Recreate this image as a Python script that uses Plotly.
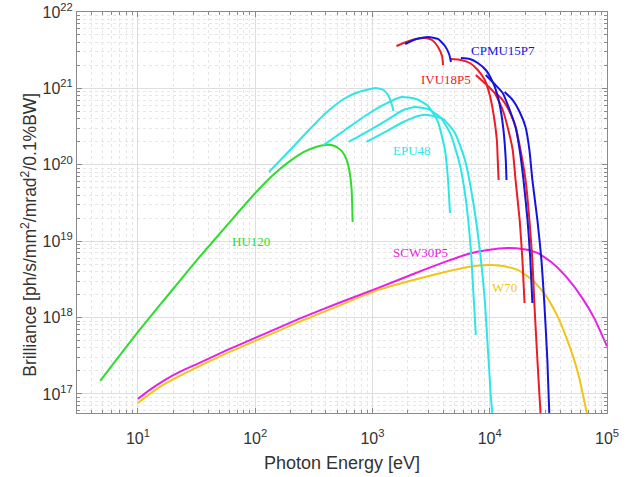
import plotly.graph_objects as go

# ---------------- data (photon energy [eV], brilliance) ----------------
hu120_energy = [4.76, 7.04, 10, 15.4, 22.7, 33.5, 49.5, 73.2, 104, 145, 194, 260, 329, 400,
                476, 546, 602, 638, 664, 677]
hu120_brill = [1.48e17, 3.24e17, 6.48e17, 1.46e18, 3.01e18, 6.21e18, 1.24e19, 2.48e19, 4.54e19,
               7.58e19, 1.09e20, 1.47e20, 1.71e20, 1.82e20, 1.76e20, 1.52e20, 1.16e20, 8.05e19,
               4.68e19, 1.78e19]

epu48_energy = [
    [131, 206, 287, 400, 568, 761, 1060, 1240, 1370, 1450, 1510],
    [385, 568, 839, 1240, 1760, 2360, 2980, 3620, 4150, 4410, 4580],
    [626, 925, 1370, 1830, 2310, 2980, 3840, 4670, 5570, 6260, 6900, 7310, 7610],
    [889, 1240, 1830, 2450, 2980, 4000, 5050, 6140, 7180, 8230, 9070, 9620, 10200, 10600],
]
epu48_brill = [
    [8.05e19, 1.66e20, 2.85e20, 4.76e20, 7.26e20, 8.97e20, 1.01e21, 9.53e20, 7.96e20, 6.44e20, 5.06e20],
    [1.82e20, 2.77e20, 4.22e20, 6.07e20, 7.71e20, 7.26e20, 5.89e20, 3.63e20, 1.56e20, 6.32e19, 2.34e19],
    [1.99e20, 2.77e20, 3.97e20, 5.21e20, 5.71e20, 5.37e20, 4.10e20, 2.45e20, 9.94e19, 3.46e19,
     7.67e18, 1.70e18, 5.92e17],
    [1.99e20, 2.61e20, 3.63e20, 4.35e20, 4.49e20, 3.97e20, 2.61e20, 1.16e20, 3.46e19, 7.67e18,
     1.70e18, 4.12e17, 9.7e16, 4.57e16],
]

ivu18p5_energy = [
    [1600, 1940, 2360, 2810, 3220, 3620, 3920, 4000],
    [4670, 5680, 6770, 7910, 9070, 10000, 10800, 11500, 11700, 11900],
    [7610, 9250, 11000, 12900, 14200, 15700, 16600, 18000, 19000, 19800],
    [11000, 12900, 14800, 16600, 18300, 20200, 21800, 23100, 24000, 25500, 27100, 27600],
]
ivu18p5_brill = [
    [3.59e21, 4.05e21, 4.44e21, 4.57e21, 4.30e21, 3.48e21, 2.65e21, 2.02e21],
    [2.43e21, 2.36e21, 2.15e21, 1.74e21, 1.29e21, 8.2e20, 4.49e20, 2.11e20, 1.16e20, 6.32e19],
    [1.50e21, 1.14e21, 8.71e20, 5.21e20, 3.13e20, 1.56e20, 6.32e19, 1.89e19, 5.68e18, 1.55e18],
    [8.97e20, 7.04e20, 4.91e20, 3.13e20, 1.56e20, 6.32e19, 1.89e19, 5.68e18, 1.55e18, 2.79e17,
     5.64e16, 3.93e16],
]

cpmu15p7_energy = [
    [1900, 2360, 2980, 3620, 4150, 4500, 4670],
    [5680, 6770, 7910, 9250, 10400, 11500, 12400, 13100, 13700, 13900],
    [9250, 11000, 12900, 14800, 16600, 18000, 19400, 21000, 22200, 23100],
    [13400, 15700, 18000, 20200, 21800, 23100, 25500, 27600, 29200, 31000, 32200, 32900],
]
cpmu15p7_brill = [
    [3.81e21, 4.44e21, 4.71e21, 4.44e21, 3.59e21, 2.82e21, 2.22e21],
    [2.50e21, 2.43e21, 2.15e21, 1.74e21, 1.29e21, 8.71e20, 5.21e20, 2.85e20, 1.16e20, 6.32e19],
    [1.50e21, 1.14e21, 8.71e20, 5.21e20, 3.13e20, 1.56e20, 6.32e19, 1.89e19, 5.68e18, 1.55e18],
    [8.97e20, 7.04e20, 4.91e20, 3.13e20, 1.56e20, 6.32e19, 1.89e19, 5.68e18, 1.55e18, 2.79e17,
     5.64e16, 3.93e16],
]

scw30p5_energy = [10, 12.6, 16.9, 22.7, 33.5, 57.9, 100, 236, 515, 1120, 2230, 4150, 6510, 9620,
                  14200, 19000, 25500, 34200, 45800, 61400, 77600, 100000]
scw30p5_brill = [8.6e16, 1.13e17, 1.52e17, 1.94e17, 2.55e17, 3.77e17, 5.41e17, 9.59e17, 1.55e18,
                 2.44e18, 3.72e18, 5.35e18, 6.79e18, 7.67e18, 8.15e18, 7.91e18, 7.01e18, 5.19e18,
                 3.30e18, 1.81e18, 9.89e17, 4.2e17]

w70_energy = [10, 12.6, 16.9, 22.7, 33.5, 57.9, 100, 236, 515, 1120, 2230, 4150, 6510, 9620,
              12900, 17300, 23100, 29800, 37700, 45800, 55700, 63800, 69000]
w70_brill = [7.6e16, 1.0e17, 1.35e17, 1.72e17, 2.32e17, 3.44e17, 4.94e17, 8.75e17, 1.42e18,
             2.30e18, 3.10e18, 3.95e18, 4.59e18, 4.88e18, 4.73e18, 4.20e18, 3.10e18, 1.98e18,
             1.05e18, 5.09e17, 2.06e17, 8.34e16, 4.57e16]

x_tick_vals = [10, 100, 1000, 10000, 100000]
x_tick_text = ["10<sup>1</sup>", "10<sup>2</sup>", "10<sup>3</sup>", "10<sup>4</sup>", "10<sup>5</sup>"]
y_tick_vals = [1e17, 1e18, 1e19, 1e20, 1e21, 1e22]
y_tick_text = ["10<sup>17</sup>", "10<sup>18</sup>", "10<sup>19</sup>", "10<sup>20</sup>",
               "10<sup>21</sup>", "10<sup>22</sup>"]

x_title = "Photon Energy [eV]"
y_title = "Brilliance [ph/s/mm<sup>2</sup>/mrad<sup>2</sup>/0.1%BW]"

# curve labels: (text, log10 energy, log10 brilliance, colour)
labels = [
    ("CPMU15P7", 4.114, 21.49, "#1414dc"),
    ("IVU18P5", 3.627, 21.12, "#ec1c24"),
    ("EPU48", 3.339, 20.19, "#2ee6e6"),
    ("HU120", 1.966, 18.99, "#2edc2e"),
    ("SCW30P5", 3.407, 18.85, "#e620e6"),
    ("W70", 4.127, 18.39, "#f2c418"),
]

COL = {"cpmu": "#1414dc", "ivu": "#ec1c24", "epu": "#2ee6e6", "hu": "#2edc2e",
       "scw": "#e620e6", "w": "#f2c418"}

fig = go.Figure()

def add(xs, ys, color):
    fig.add_trace(go.Scatter(x=xs, y=ys, mode="lines",
                             line=dict(color=color, width=2, shape="spline", smoothing=0.5),
                             hoverinfo="skip", showlegend=False))

add(w70_energy, w70_brill, COL["w"])
add(scw30p5_energy, scw30p5_brill, COL["scw"])
add(hu120_energy, hu120_brill, COL["hu"])
for xs, ys in zip(epu48_energy, epu48_brill):
    add(xs, ys, COL["epu"])
for xs, ys in zip(ivu18p5_energy, ivu18p5_brill):
    add(xs, ys, COL["ivu"])
for xs, ys in zip(cpmu15p7_energy, cpmu15p7_brill):
    add(xs, ys, COL["cpmu"])

for text, lx, ly, c in labels:
    fig.add_annotation(x=lx, y=ly, xref="x", yref="y", text=text, showarrow=False,
                       font=dict(family="Liberation Serif, Times New Roman, serif", size=13, color=c))

# y-axis title as a rotated annotation (placed to the left of the plot area)
fig.add_annotation(x=-0.092, y=0.445, xref="paper", yref="paper", text=y_title, showarrow=False,
                   textangle=-90, xanchor="center", yanchor="middle",
                   font=dict(family="Liberation Sans, Arial, sans-serif", size=17.5, color="#333333"))

minor_x = [m * 10.0 ** e for e in range(0, 6) for m in range(2, 10)]
minor_y = [m * 10.0 ** e for e in range(16, 22) for m in range(2, 10)]

axis_common = dict(
    type="log",
    automargin=False,
    showline=True, linecolor="#8a8a8a", linewidth=1, mirror="allticks",
    ticks="inside", ticklen=5, tickcolor="#8a8a8a",
    showgrid=True, gridcolor="#dedede", gridwidth=1,
    zeroline=False,
    tickfont=dict(family="Liberation Sans, Arial, sans-serif", size=16, color="#333333"),
    tickmode="array",
)

fig.update_xaxes(
    **axis_common,
    range=[0.48, 5.0],
    tickvals=x_tick_vals, ticktext=x_tick_text,
    ticklabelstandoff=11,
    minor=dict(tickmode="array", tickvals=minor_x, ticks="inside", ticklen=3, tickcolor="#8a8a8a",
               showgrid=True, gridcolor="#e6e6e6", griddash="dot", gridwidth=1),
    title=dict(text=x_title, standoff=10,
               font=dict(family="Liberation Sans, Arial, sans-serif", size=18, color="#333333")),
)
fig.update_yaxes(
    **axis_common,
    range=[16.75, 22.0],
    tickvals=y_tick_vals, ticktext=y_tick_text,
    minor=dict(tickmode="array", tickvals=minor_y, ticks="inside", ticklen=3, tickcolor="#8a8a8a",
               showgrid=True, gridcolor="#e6e6e6", griddash="dot", gridwidth=1),
)

fig.update_layout(
    width=627, height=477,
    margin=dict(l=77, r=20, t=12, b=64),
    paper_bgcolor="white", plot_bgcolor="white",
    showlegend=False,
)

fig.write_html("out.html", config={"displayModeBar": False},
               post_script="document.body.style.margin='0px';")
